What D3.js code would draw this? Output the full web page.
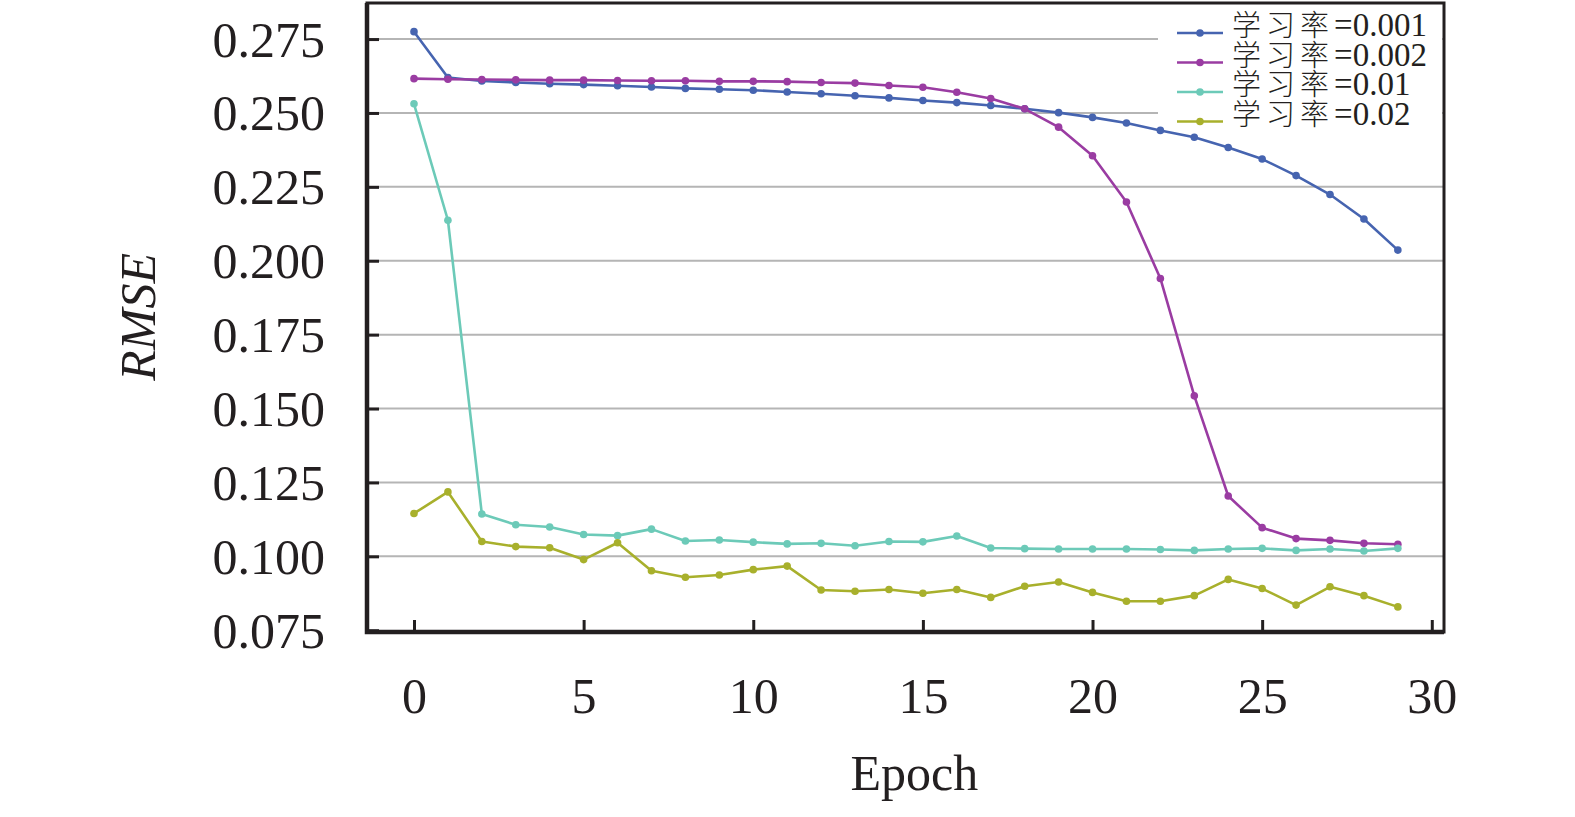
<!DOCTYPE html>
<html>
<head>
<meta charset="utf-8">
<script src="https://cdn.jsdelivr.net/npm/d3@7"></script>
<style>
  body { margin: 0; background: #fff; }
  text { font-family: "Liberation Serif", "Noto Sans CJK SC", serif; fill: #231f20; }
</style>
</head>
<body>
<div id="chart"></div>
<script>
// data
const epochs = d3.range(0, 30);
const seriesPrefix = "学习率";
const seriesRates = ["=0.001", "=0.002", "=0.01", "=0.02"];
const lr0001 = [0.2775, 0.2620, 0.2608, 0.2603, 0.2599, 0.2596, 0.2592, 0.2588, 0.2583, 0.2580,
  0.2577, 0.2571, 0.2565, 0.2558, 0.2551, 0.2542, 0.2535, 0.2525, 0.2514, 0.2501,
  0.2485, 0.2466, 0.2441, 0.2418, 0.2383, 0.2344, 0.2288, 0.2224, 0.2141, 0.2036];
const lr0002 = [0.2616, 0.2614, 0.2613, 0.2612, 0.2611, 0.2611, 0.2610, 0.2609, 0.2609, 0.2607,
  0.2607, 0.2606, 0.2603, 0.2601, 0.2593, 0.2587, 0.2570, 0.2549, 0.2514, 0.2452,
  0.2355, 0.2199, 0.1940, 0.1543, 0.1204, 0.1097, 0.1060, 0.1054, 0.1044, 0.1041];
const lr001 = [0.2531, 0.2137, 0.1143, 0.1107, 0.1099, 0.1074, 0.1070, 0.1092, 0.1052, 0.1055,
  0.1048, 0.1042, 0.1044, 0.1036, 0.1050, 0.1049, 0.1069, 0.1028, 0.1026, 0.1025,
  0.1025, 0.1025, 0.1023, 0.1020, 0.1025, 0.1027, 0.1020, 0.1025, 0.1018, 0.1027];
const lr002 = [0.1145, 0.1218, 0.1050, 0.1033, 0.1029, 0.0989, 0.1046, 0.0951, 0.0929, 0.0937,
  0.0955, 0.0967, 0.0886, 0.0882, 0.0888, 0.0875, 0.0888, 0.0861, 0.0899, 0.0913,
  0.0878, 0.0848, 0.0848, 0.0867, 0.0922, 0.0891, 0.0835, 0.0897, 0.0867, 0.0829];
const xTicks = [0, 5, 10, 15, 20, 25, 30];
const yTicks = [0.075, 0.100, 0.125, 0.150, 0.175, 0.200, 0.225, 0.250, 0.275];
const colors = ["#4664b0", "#9a3ca2", "#6ccab8", "#a8b02c"];

(function () {

  // set the dimensions and margins of the graph
  const margin = { top: 3, right: 131, bottom: 185, left: 367 },
    width = 1575 - margin.left - margin.right,
    height = 817 - margin.top - margin.bottom;

  const svg = d3.select("#chart")
    .append("svg")
    .attr("width", width + margin.left + margin.right)
    .attr("height", height + margin.top + margin.bottom)
    .append("g")
    .attr("transform", `translate(${margin.left}, ${margin.top})`);

  const series = [lr0001, lr0002, lr001, lr002].map((vals, i) => ({
    rate: seriesRates[i],
    color: colors[i],
    values: vals.map((v, j) => ({ epoch: epochs[j], rmse: v }))
  }));

  const x = d3.scaleLinear().domain([-1.385, 30.36]).range([0, width]);
  const y = d3.scaleLinear().domain([0.0744, 0.2872]).range([height, 0]);

  // grid lines
  svg.append("g")
    .selectAll("line")
    .data(yTicks.slice(1))
    .join("line")
    .attr("x1", 0)
    .attr("x2", width)
    .attr("y1", d => y(d))
    .attr("y2", d => y(d))
    .attr("stroke", "#b5b5b5")
    .attr("stroke-width", 2);

  // Y axis, ticks pointing inward
  const yAxis = svg.append("g")
    .call(d3.axisLeft(y).tickValues(yTicks).tickFormat(d3.format(".3f")).tickSize(-12).tickPadding(42));
  yAxis.select(".domain").remove();
  yAxis.selectAll(".tick line").attr("stroke", "#231f20").attr("stroke-width", 3);
  yAxis.selectAll("text").style("font-size", "50px").attr("dy", "0.34em");

  // X axis
  const xAxis = svg.append("g")
    .attr("transform", `translate(0, ${height})`)
    .call(d3.axisBottom(x).tickValues(xTicks).tickSize(-12).tickPadding(45));
  xAxis.select(".domain").remove();
  xAxis.selectAll(".tick line").attr("stroke", "#231f20").attr("stroke-width", 3);
  xAxis.selectAll("text").style("font-size", "50px");

  // frame
  svg.append("rect")
    .attr("x", 0).attr("y", 0)
    .attr("width", width).attr("height", height)
    .attr("fill", "none")
    .attr("stroke", "#231f20")
    .attr("stroke-width", 3);
  svg.append("path")
    .attr("d", `M0,0V${height}H${width}`)
    .attr("fill", "none")
    .attr("stroke", "#231f20")
    .attr("stroke-width", 4.5);

  // axis titles
  svg.append("text")
    .attr("x", x(14.75))
    .attr("y", height + 158)
    .attr("text-anchor", "middle")
    .style("font-size", "50px")
    .text("Epoch");
  svg.append("text")
    .attr("transform", `translate(${-212}, ${y(0.181)}) rotate(-90)`)
    .attr("text-anchor", "middle")
    .style("font-size", "50px")
    .style("font-style", "italic")
    .text("RMSE");

  // legend box (white, hides grid)
  const legend = svg.append("g").attr("transform", `translate(${1158 - margin.left}, 0)`);
  legend.append("rect")
    .attr("x", 0).attr("y", 2)
    .attr("width", 1442 - 1158).attr("height", 126)
    .attr("fill", "#fff");

  // lines
  const line = d3.line().x(d => x(d.epoch)).y(d => y(d.rmse));
  const groups = svg.selectAll(".series")
    .data(series)
    .join("g")
    .attr("class", "series");
  groups.append("path")
    .attr("d", d => line(d.values))
    .attr("fill", "none")
    .attr("stroke", d => d.color)
    .attr("stroke-width", 2.6)
    .attr("stroke-linejoin", "round");
  groups.selectAll("circle")
    .data(d => d.values.map(v => ({ ...v, color: d.color })))
    .join("circle")
    .attr("cx", d => x(d.epoch))
    .attr("cy", d => y(d.rmse))
    .attr("r", 3.8)
    .attr("fill", d => d.color);

  // legend entries
  const items = legend.selectAll(".item")
    .data(series)
    .join("g")
    .attr("class", "item")
    .attr("transform", (d, i) => `translate(0, ${30 + i * 29.5})`);
  items.append("line")
    .attr("x1", 1177 - 1158).attr("x2", 1223 - 1158)
    .attr("stroke", d => d.color)
    .attr("stroke-width", 2.6);
  items.append("circle")
    .attr("cx", 1200 - 1158)
    .attr("r", 3.8)
    .attr("fill", d => d.color);
  const labels = items.append("text")
    .attr("x", 1232 - 1158)
    .attr("y", -7)
    .attr("dy", "0.35em")
    .style("font-size", "29px");
  labels.append("tspan")
    .style("font-family", "'Noto Sans CJK SC'")
    .style("font-weight", 300)
    .attr("letter-spacing", "5px")
    .text(seriesPrefix);
  labels.append("tspan")
    .style("font-size", "33px")
    .text(d => d.rate);

})();
</script>
</body>
</html>
